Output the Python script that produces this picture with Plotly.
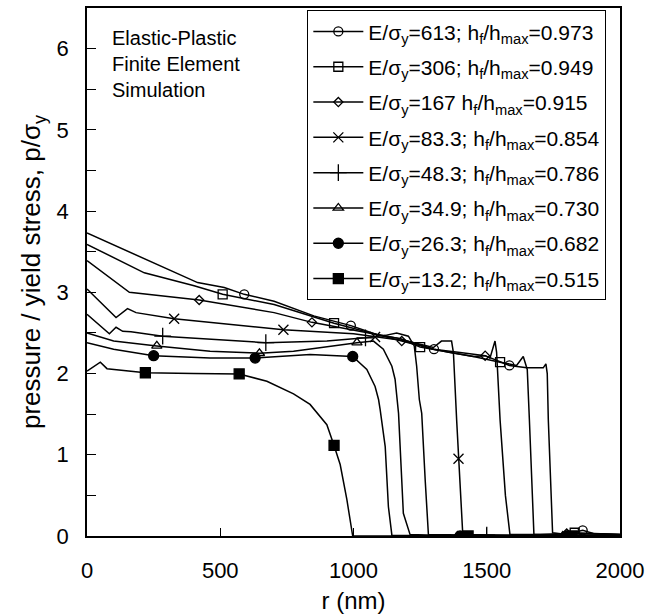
import plotly.graph_objects as go

# ---------------- data ----------------
labels = [
    "E/σ<sub>y</sub>=613; h<sub>f</sub>/h<sub>max</sub>=0.973",
    "E/σ<sub>y</sub>=306; h<sub>f</sub>/h<sub>max</sub>=0.949",
    "E/σ<sub>y</sub>=167 h<sub>f</sub>/h<sub>max</sub>=0.915",
    "E/σ<sub>y</sub>=83.3; h<sub>f</sub>/h<sub>max</sub>=0.854",
    "E/σ<sub>y</sub>=48.3; h<sub>f</sub>/h<sub>max</sub>=0.786",
    "E/σ<sub>y</sub>=34.9; h<sub>f</sub>/h<sub>max</sub>=0.730",
    "E/σ<sub>y</sub>=26.3; h<sub>f</sub>/h<sub>max</sub>=0.682",
    "E/σ<sub>y</sub>=13.2; h<sub>f</sub>/h<sub>max</sub>=0.515",
]

r_613 = [0, 415, 515, 590, 702, 851, 990, 1087, 1175, 1302, 1362, 1450, 1494, 1585, 1650, 1712, 1722, 1727, 1731, 1740, 1747, 1800, 1860, 1900, 2000]
p_613 = [3.73, 3.12, 3.06, 2.975, 2.89, 2.71, 2.59, 2.48, 2.43, 2.30, 2.26, 2.21, 2.22, 2.10, 2.07, 2.07, 2.12, 2.00, 1.43, 0.50, 0.04, 0.02, 0.07, 0.03, 0.02]
mr_613 = [590, 990, 1302, 1585, 1860]
mp_613 = [2.975, 2.59, 2.30, 2.10, 0.07]

r_306 = [0, 215, 402, 509, 702, 927, 1087, 1175, 1250, 1362, 1450, 1550, 1612, 1637, 1652, 1660, 1670, 1677, 1750, 1830, 2000]
p_306 = [3.59, 3.24, 3.08, 2.975, 2.85, 2.62, 2.48, 2.43, 2.325, 2.26, 2.21, 2.14, 2.10, 2.21, 2.05, 1.43, 0.50, 0.02, 0.02, 0.04, 0.02]
mr_306 = [509, 927, 1250, 1550, 1830]
mp_306 = [2.975, 2.62, 2.325, 2.14, 0.04]

r_167 = [0, 159, 421, 702, 844, 1000, 1087, 1181, 1300, 1400, 1494, 1512, 1531, 1537, 1550, 1570, 1587, 1700, 1800, 2000]
p_167 = [3.39, 3.00, 2.905, 2.75, 2.63, 2.53, 2.48, 2.40, 2.30, 2.26, 2.22, 2.19, 2.40, 2.26, 1.43, 0.50, 0.02, 0.02, 0.03, 0.02]
mr_167 = [421, 844, 1181, 1494, 1800]
mp_167 = [2.905, 2.63, 2.40, 2.22, 0.03]

r_833 = [0, 109, 152, 184, 327, 737, 1000, 1081, 1200, 1300, 1330, 1368, 1375, 1387, 1394, 1410, 1600, 2000]
p_833 = [3.04, 2.69, 2.80, 2.75, 2.675, 2.54, 2.49, 2.45, 2.40, 2.32, 2.40, 2.40, 2.255, 1.43, 0.95, 0.02, 0.01, 0.01]
mr_833 = [327, 737, 1081, 1394]
mp_833 = [2.675, 2.54, 2.45, 0.95]

r_483 = [0, 84, 109, 134, 165, 284, 671, 900, 1045, 1120, 1162, 1206, 1228, 1237, 1247, 1256, 1269, 1281, 1500, 2000]
p_483 = [2.73, 2.49, 2.57, 2.52, 2.515, 2.46, 2.38, 2.40, 2.44, 2.47, 2.50, 2.46, 2.34, 2.09, 1.68, 1.51, 0.69, 0.02, 0.01, 0.01]
mr_483 = [284, 671, 1045, 1500]
mp_483 = [2.46, 2.38, 2.44, 0.01]

r_349 = [0, 100, 262, 462, 647, 775, 1013, 1075, 1112, 1144, 1156, 1169, 1187, 1212, 1390, 1785, 2000]
p_349 = [2.50, 2.40, 2.34, 2.275, 2.25, 2.275, 2.38, 2.40, 2.30, 2.09, 1.93, 1.51, 0.28, 0.02, 0.0, 0.0, 0.01]
mr_349 = [262, 647, 1013, 1390, 1785]
mp_349 = [2.34, 2.25, 2.38, 0.0, 0.0]

r_263 = [0, 100, 250, 462, 631, 837, 997, 1050, 1081, 1094, 1100, 1119, 1131, 1144, 1400, 1800, 2000]
p_263 = [2.38, 2.30, 2.22, 2.19, 2.19, 2.235, 2.21, 2.05, 1.84, 1.68, 1.556, 1.10, 0.36, 0.01, 0.0, 0.0, 0.01]
mr_263 = [250, 631, 997, 1400, 1800]
mp_263 = [2.22, 2.19, 2.21, 0.0, 0.0]

r_132 = [0, 50, 75, 219, 400, 571, 675, 775, 837, 900, 927, 950, 975, 997, 1430, 1820, 2000]
p_132 = [2.03, 2.14, 2.06, 2.01, 2.00, 1.995, 1.905, 1.75, 1.62, 1.37, 1.115, 0.88, 0.45, 0.0, 0.0, 0.0, 0.0]
mr_132 = [219, 571, 927, 1430, 1820]
mp_132 = [2.01, 1.995, 1.115, 0.0, 0.0]

curves_r = [r_613, r_306, r_167, r_833, r_483, r_349, r_263, r_132]
curves_p = [p_613, p_306, p_167, p_833, p_483, p_349, p_263, p_132]
marks_r = [mr_613, mr_306, mr_167, mr_833, mr_483, mr_349, mr_263, mr_132]
marks_p = [mp_613, mp_306, mp_167, mp_833, mp_483, mp_349, mp_263, mp_132]

# ---------------- styling ----------------
symbols = ["circle-open", "square-open", "diamond-open", "x-thin-open",
           "cross-thin-open", "triangle-up-open", "circle", "square"]
sizes = [9, 9, 7, 10, 12, 9, 10, 10]
FONT = "Liberation Sans, Arial, Helvetica, sans-serif"

fig = go.Figure()
for i in range(len(labels)):
    fig.add_trace(go.Scatter(x=curves_r[i], y=curves_p[i], mode="lines",
                             line=dict(color="black", width=1.5),
                             showlegend=False, hoverinfo="skip"))
    fig.add_trace(go.Scatter(x=marks_r[i], y=marks_p[i], mode="markers",
                             marker=dict(symbol=symbols[i], size=sizes[i], color="black",
                                         line=dict(color="black", width=1.3)),
                             showlegend=False, hoverinfo="skip"))
    fig.add_trace(go.Scatter(x=[None], y=[None], mode="lines+markers", name=labels[i],
                             legendgroup="g%d" % i,
                             line=dict(color="black", width=1.5),
                             marker=dict(symbol=symbols[i], size=sizes[i], color="black",
                                         line=dict(color="black", width=1.3))))

fig.add_annotation(text="Elastic-Plastic<br>Finite Element<br>Simulation",
                   xref="paper", yref="paper", x=0.043, y=0.968,
                   xanchor="left", yanchor="top", align="left", showarrow=False,
                   font=dict(family=FONT, size=20, color="black"))

fig.update_layout(
    width=647, height=614,
    margin=dict(l=87, r=27, t=8, b=78, autoexpand=False),
    paper_bgcolor="white", plot_bgcolor="white",
    font=dict(family=FONT, color="black"),
    legend=dict(x=0.413, y=0.996, xanchor="left", yanchor="top",
                bordercolor="black", borderwidth=1.2, bgcolor="white",
                font=dict(family=FONT, size=21, color="black"),
                itemwidth=50, tracegroupgap=5, traceorder="grouped"),
    xaxis=dict(range=[0, 2000], dtick=500, tick0=0, ticks="inside", ticklen=8,
               tickwidth=1.2, tickcolor="black", showline=True, linecolor="black",
               linewidth=1.5, mirror=True, showgrid=False, zeroline=False,
               automargin=False,
               tickfont=dict(size=22), ticklabelstandoff=14,
               title=dict(text="r (nm)", font=dict(size=24), standoff=10)),
    yaxis=dict(range=[0, 6.5], dtick=1, tick0=0, ticks="inside", ticklen=9,
               tickwidth=1.2, tickcolor="black", showline=True, linecolor="black",
               linewidth=1.5, mirror=True, showgrid=False, zeroline=False,
               automargin=False,
               tickfont=dict(size=22), ticklabelstandoff=12,
               minor=dict(dtick=0.5, ticks="inside", ticklen=9, tickcolor="black",
                          tickwidth=1.2, showgrid=False),
               title=dict(text="pressure / yield stress, p/σ<sub>y</sub>",
                          font=dict(size=26), standoff=8)),
)

# remove the default page margin so the 647x614 figure fills the window exactly
fig.write_html("out.html",
               config={"displayModeBar": False},
               post_script="document.body.style.margin='0';document.body.style.overflow='hidden';")
